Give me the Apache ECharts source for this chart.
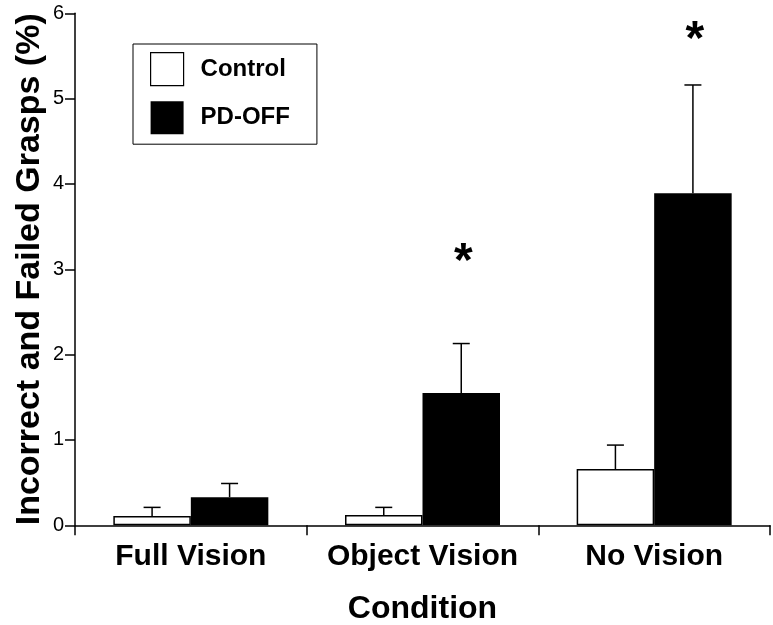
<!DOCTYPE html>
<html>
<head>
<meta charset="utf-8">
<script src="https://cdn.jsdelivr.net/npm/echarts@6/dist/echarts.min.js"></script>
<style>
  html, body { margin: 0; padding: 0; background: #fff; }
  #chart { width: 773px; height: 625px; }
</style>
</head>
<body>
<div id="chart"></div>
<script>
// Grasp error rates (%) by visual condition
const categories = ['Full Vision', 'Object Vision', 'No Vision'];
const controlMean = [0.11, 0.12, 0.66];
const controlErr  = [0.10, 0.09, 0.28];
const pdMean      = [0.33, 1.55, 3.89];
const pdErr       = [0.16, 0.58, 1.27];
// height of the significance asterisk above each group (null = none)
const sigMark     = [null, 3.19, 5.79];
const yTicks      = [0, 1, 2, 3, 4, 5, 6];

const FONT = "'Liberation Sans', Arial, Helvetica, sans-serif";
const BAR_W = 77.5;
const CAP_W = 17;
const LINE_W = 1.5;

function errorBars(name, means, errs, side) {
  return {
    type: 'custom',
    name: name,
    data: means.map((m, i) => [i, m, m + errs[i]]),
    encode: { x: 0, y: [1, 2] },
    z: 3,
    silent: true,
    renderItem(params, api) {
      const i = api.value(0);
      const base = api.coord([i, api.value(1)]);
      const top = api.coord([i, api.value(2)]);
      const x = base[0] + side * BAR_W / 2;
      const st = { stroke: '#000', lineWidth: LINE_W };
      return {
        type: 'group',
        children: [
          { type: 'line', shape: { x1: x, y1: base[1], x2: x, y2: top[1] }, style: st },
          { type: 'line', shape: { x1: x - CAP_W / 2, y1: top[1], x2: x + CAP_W / 2, y2: top[1] }, style: st }
        ]
      };
    }
  };
}

const sigData = [];
sigMark.forEach((v, i) => { if (v != null) sigData.push([i, v]); });

const chart = echarts.init(document.getElementById('chart'), null, { renderer: 'canvas' });
chart.setOption({
  animation: false,
  backgroundColor: '#fff',
  grid: {
    left: 75, right: 3, top: 13.3, bottom: 99.7,
    containLabel: false, outerBoundsMode: 'none'
  },
  legend: {
    left: 133, top: 44,
    orient: 'vertical',
    icon: 'rect',
    itemWidth: 33, itemHeight: 33, itemGap: 15,
    padding: [8, 27, 10, 17],
    borderColor: '#000', borderWidth: 1,
    selectedMode: false,
    textStyle: { fontFamily: FONT, fontWeight: 'bold', fontSize: 24, color: '#000', padding: [0, 0, 0, 12] },
    data: [
      { name: 'Control', itemStyle: { color: '#fff', borderColor: '#000', borderWidth: 1.2 } },
      { name: 'PD-OFF', itemStyle: { color: '#000', borderWidth: 0 } }
    ]
  },
  xAxis: {
    type: 'category',
    data: categories,
    name: 'Condition',
    nameLocation: 'middle',
    nameGap: 68,
    nameMoveOverlap: false,
    nameTextStyle: { fontFamily: FONT, fontWeight: 'bold', fontSize: 32, color: '#000' },
    axisLine: { show: true, lineStyle: { color: '#000', width: LINE_W } },
    axisTick: { show: true, alignWithLabel: false, interval: 0, length: 10, lineStyle: { color: '#000', width: LINE_W } },
    axisLabel: { fontFamily: FONT, fontWeight: 'bold', fontSize: 30, color: '#000', margin: 16, interval: 0, hideOverlap: false },
    splitLine: { show: false }
  },
  yAxis: {
    type: 'value',
    min: yTicks[0], max: yTicks[yTicks.length - 1], interval: 1,
    name: 'Incorrect and Failed Grasps (%)',
    nameLocation: 'middle',
    nameGap: 28,
    nameMoveOverlap: false,
    nameTextStyle: { fontFamily: FONT, fontWeight: 'bold', fontSize: 34, color: '#000' },
    axisLine: { show: true, lineStyle: { color: '#000', width: LINE_W } },
    axisTick: { show: true, length: 10, lineStyle: { color: '#000', width: LINE_W } },
    axisLabel: { fontFamily: FONT, fontSize: 20, color: '#000', margin: 11 },
    splitLine: { show: false }
  },
  series: [
    {
      type: 'bar', name: 'Control', data: controlMean,
      barWidth: BAR_W, barGap: '0%',
      itemStyle: { color: '#fff', borderColor: '#000', borderWidth: LINE_W },
      z: 2
    },
    {
      type: 'bar', name: 'PD-OFF', data: pdMean,
      barWidth: BAR_W, barGap: '0%',
      itemStyle: { color: '#000' },
      z: 2
    },
    errorBars('Control SE', controlMean, controlErr, -1),
    errorBars('PD-OFF SE', pdMean, pdErr, 1),
    {
      type: 'custom',
      name: 'significance',
      data: sigData,
      encode: { x: 0, y: 1 },
      z: 4,
      silent: true,
      renderItem(params, api) {
        const p = api.coord([api.value(0), api.value(1)]);
        return {
          type: 'text',
          x: p[0] + BAR_W / 2 + 2,
          y: p[1] + 10,
          style: {
            text: '*', fill: '#000',
            font: 'bold 48px ' + FONT,
            textAlign: 'center', textVerticalAlign: 'middle'
          }
        };
      }
    }
  ]
});
</script>
</body>
</html>
